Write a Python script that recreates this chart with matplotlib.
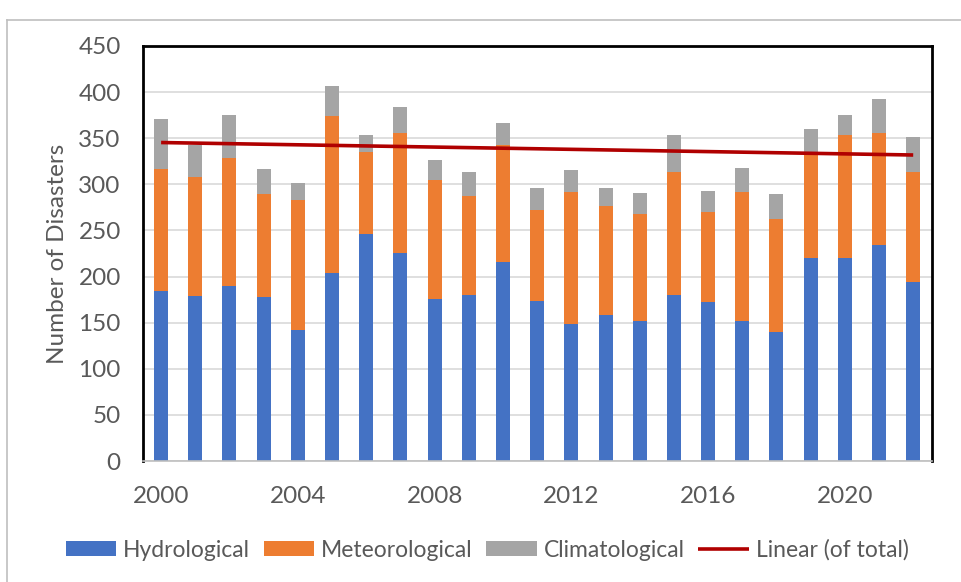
import numpy as np
import matplotlib
matplotlib.use("Agg")
import matplotlib.pyplot as plt
from matplotlib.lines import Line2D

years = list(range(2000, 2023))
hydrological = [184, 179, 190, 178, 142, 204, 246, 226, 176, 180, 216, 173, 149, 158,
                152, 180, 172, 152, 140, 220, 220, 234, 194]
meteorological = [133, 129, 139, 112, 141, 170, 89, 130, 129, 107, 127, 99, 143, 119,
                  116, 133, 98, 140, 122, 114, 134, 122, 119]
climatological = [54, 35, 46, 27, 18, 33, 19, 28, 21, 26, 23, 24, 24, 19, 23, 40, 23,
                  26, 27, 26, 21, 36, 38]
xtick_years = [2000, 2004, 2008, 2012, 2016, 2020]
yticks = list(range(0, 451, 50))

plt.rcParams['font.family'] = ['Lato', 'DejaVu Sans']
TXT = '#595959'

fig = plt.figure(figsize=(9.61, 5.82), dpi=100)
ax = fig.add_axes([143/961, 1 - 461/582, (932-143)/961, (461-46)/582])

x = np.array(years, dtype=float)
h = np.array(hydrological)
m = np.array(meteorological)
c = np.array(climatological)
w = 0.41
b1 = ax.bar(x, h, w, color='#4472C4', label='Hydrological', zorder=2)
b2 = ax.bar(x, m, w, bottom=h, color='#ED7D31', label='Meteorological', zorder=2)
b3 = ax.bar(x, c, w, bottom=h + m, color='#A5A5A5', label='Climatological', zorder=2)

total = h + m + c
coef = np.polyfit(x, total, 1)
ln, = ax.plot(x[[0, -1]], np.polyval(coef, x[[0, -1]]), color='#B00000', lw=2.6,
              solid_capstyle='butt', zorder=3, label='Linear (of total)')

ax.set_xlim(1999.47, 2022.55)
ax.set_ylim(0, 450)
ax.set_yticks(yticks)
ax.set_xticks(xtick_years)
ax.yaxis.grid(True, color='#D9D9D9', lw=1.2, zorder=0)
ax.set_axisbelow(True)
ax.tick_params(axis='both', length=0, labelsize=17.5, colors=TXT)
ax.tick_params(axis='y', pad=16)
ax.tick_params(axis='x', pad=18)
for s in ['left', 'top', 'right']:
    ax.spines[s].set_color('black')
    ax.spines[s].set_linewidth(2)
ax.spines['bottom'].set_color('#BFBFBF')
ax.spines['bottom'].set_linewidth(1.2)

ax.set_ylabel('Number of Disasters', fontsize=17.5, color=TXT)
ax.yaxis.set_label_coords(-(143-68)/(932-143), 0.5)

leg = fig.legend([b1, b2, b3, ln],
                 ['Hydrological', 'Meteorological', 'Climatological', 'Linear (of total)'],
                 loc='center', bbox_to_anchor=(487/961, 1 - 550/582),
                 ncol=4, frameon=False, fontsize=16.5, handlelength=2.2,
                 handleheight=0.65, handletextpad=0.3, columnspacing=0.6)
for t in leg.get_texts():
    t.set_color(TXT)

# chart border
fig.add_artist(Line2D([7/961, 1], [1 - 20/582, 1 - 20/582], color='#BFBFBF', lw=1.2,
                      transform=fig.transFigure))
fig.add_artist(Line2D([7/961, 7/961], [0, 1 - 20/582], color='#BFBFBF', lw=1.2,
                      transform=fig.transFigure))

fig.savefig('out.png', dpi=100)
